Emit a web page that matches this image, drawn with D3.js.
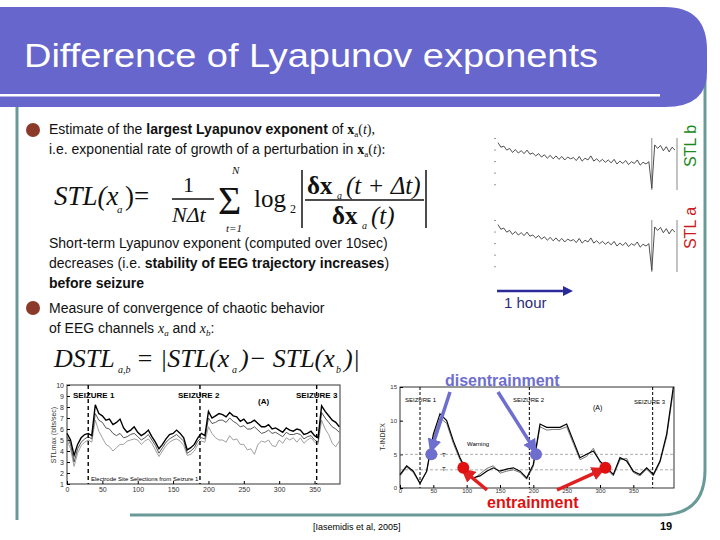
<!DOCTYPE html>
<html><head><meta charset="utf-8">
<script src="https://cdn.jsdelivr.net/npm/d3@7"></script>
<style>body{margin:0;background:#fff}svg{display:block}text{font-family:"Liberation Sans",Arial,sans-serif}</style>
</head><body><svg id="s" width="720" height="540"></svg>
<script>
// ---- data ----
const seizuresLeft = [30, 188, 353];
const leftX = d3.range(0, 390, 5);
const leftS1 = [5.6,5.0,3.6,4.6,5.2,5.5,5.6,5.4,8.2,7.4,7.2,6.8,6.9,6.4,6.6,6.9,6.1,5.7,5.9,6.2,5.7,5.4,5.6,5.9,5.3,4.8,4.2,4.6,5.1,5.5,5.6,5.9,5.6,5.2,4.1,4.3,4.6,5.2,5.6,5.4,7.6,7.0,7.2,7.4,7.3,7.1,7.5,7.2,7.1,6.7,6.9,6.5,6.6,6.8,6.5,6.2,6.2,6.4,6.0,6.1,5.9,5.7,6.1,5.9,5.8,6.0,5.9,5.5,5.6,5.8,5.4,5.2,8.1,7.6,7.2,6.8,6.6,6.2];
const leftS2 = [5.3,4.6,3.0,4.2,4.8,5.1,5.3,5.1,7.4,6.8,6.6,6.1,6.0,5.6,5.4,5.6,5.2,5.3,5.5,5.6,5.3,5.0,5.2,5.5,5.0,4.5,3.8,4.3,4.8,5.1,5.3,5.5,5.2,4.9,3.8,4.0,4.3,4.9,5.2,5.1,7.0,6.5,6.6,6.8,6.8,6.6,7.0,6.7,6.5,6.2,6.3,6.0,6.0,6.2,5.9,5.6,5.7,5.9,5.6,5.7,5.5,5.3,5.7,5.5,5.5,5.6,5.5,5.1,5.3,5.4,5.0,4.8,7.5,7.0,6.6,6.2,6.0,5.7];
const leftS3 = [5.0,4.2,2.6,3.8,4.5,4.8,5.0,4.8,6.8,5.8,5.2,4.6,4.4,4.0,4.3,4.6,4.6,4.9,5.0,5.1,5.0,4.6,4.9,5.1,4.7,4.1,3.5,4.0,4.5,4.8,5.0,5.1,4.9,4.5,3.6,3.7,4.0,4.6,4.9,4.8,6.2,5.6,5.2,5.0,5.0,4.8,5.4,5.0,5.1,4.6,4.6,4.1,4.2,3.7,4.6,4.9,4.8,5.0,4.5,4.4,5.0,4.7,5.2,5.0,5.2,4.8,5.2,4.7,5.0,5.2,4.8,4.6,6.8,6.0,5.5,4.7,4.4,4.9];
const leftYTicks = [1,2,3,4,5,6,7,8,9,10];
const leftXTicks = [0,50,100,150,200,250,300,350];

const seizuresRight = [30, 194, 379];
const tX = d3.range(0, 420, 10);
const tIndex = [2,3.3,2.5,0.7,2.5,8,11,10,7,4.5,2.5,1.5,1.8,2.5,3,2.5,2.8,3,2.5,1.5,3.5,9.5,9,9,9,9.5,7,4.5,5,5.5,4,3,2,4.5,4,2.5,2,3,2,4,8,15];
const tIndex2 = [1.8,3.1,2.3,0.6,2.4,7.6,10.4,9.6,6.6,4.2,2.3,1.3,2.1,2.9,3.3,2.2,2.5,2.7,2.3,1.3,3.2,9.1,8.6,8.7,8.7,9.1,6.6,4.2,4.7,5.9,3.8,2.8,1.8,4.2,4.4,2.3,1.8,2.8,1.8,3.8,7.6,14.5];
const tYTicks = [0,5,10,15];
const tXTicks = [0,50,100,150,200,250,300,350];
const thresholds = [5, 2.7];
const blueDots = [[47,5],[204,5]];
const redDots = [[95,3],[308,3]];

const stlX = d3.range(0, 62);
const stlB = [8.2,7.4,7.6,6.9,7.2,6.5,7.0,6.4,6.8,6.3,6.9,6.2,6.4,5.9,6.3,5.7,6.1,5.5,6.0,5.4,5.9,5.3,5.8,5.2,5.7,5.4,5.6,5.1,5.8,5.0,5.5,5.2,5.9,5.0,5.4,4.9,5.3,4.8,5.2,4.7,5.3,4.5,5.0,4.6,5.1,4.4,4.9,4.6,5.2,4.3,4.8,4.5,4.9,0.3,7.8,7.2,7.7,6.8,7.5,6.6,7.4,6.9];
const stlA = stlB.slice();

// ---- drawing ----
const svg = d3.select("#s");
svg.append("path").attr("d","M17,100 L17,520").attr("stroke","#6a9a98").attr("stroke-width",3).attr("fill","none");
svg.append("path").attr("d","M705,75 L705,470 Q705,515 660,515 L130,515").attr("stroke","#6a9a98").attr("stroke-width",3).attr("fill","none");
svg.append("path").attr("d","M0,7 L665,7 Q707,7 707,50 L707,72 Q707,107 665,107 L0,107 Z").attr("fill","#6666cc");
svg.append("rect").attr("x",0).attr("y",94).attr("width",660).attr("height",2.5).attr("fill","#fff");
svg.append("text").attr("x",24).attr("y",67).attr("fill","#fff").attr("font-size",34).attr("textLength",574).attr("lengthAdjust","spacingAndGlyphs").text("Difference of Lyapunov exponents");

[[33,130],[33,308]].forEach(p=>svg.append("circle").attr("cx",p[0]).attr("cy",p[1]).attr("r",7).attr("fill","#8b3a2a"));
function line(x,y,parts,size){const t=svg.append("text").attr("x",x).attr("y",y).attr("font-size",size||14).attr("fill","#111");
 parts.forEach(p=>{const s=t.append("tspan").text(p.t); if(p.b)s.attr("font-weight","bold"); if(p.i)s.attr("font-style","italic"); if(p.f)s.style("font-family",p.f); if(p.sub)s.attr("dy",3).attr("font-size",9); if(p.up)s.attr("dy",-3);});}
const TM='"Liberation Serif",serif';
line(49,134,[{t:"Estimate of the "},{t:"largest Lyapunov exponent",b:1},{t:" of "},{t:"x",b:1,f:TM},{t:"a",sub:1,f:TM},{t:"(",f:TM,up:1},{t:"t",i:1,f:TM},{t:"),",f:TM}]);
line(49,154,[{t:"i.e. exponential rate of growth of a perturbation in "},{t:"x",b:1,f:TM},{t:"a",sub:1,f:TM},{t:"(",f:TM,up:1},{t:"t",i:1,f:TM},{t:"):",f:TM}]);
line(49,248,[{t:"Short-term Lyapunov exponent (computed over 10sec)"}]);
line(49,268,[{t:"decreases (i.e. "},{t:"stability of EEG trajectory increases",b:1},{t:")"}]);
line(49,288,[{t:"before seizure",b:1}]);
line(49,313,[{t:"Measure of convergence of chaotic behavior"}]);
line(49,333,[{t:"of EEG channels "},{t:"x",i:1,f:TM},{t:"a",sub:1,f:TM,i:1},{t:" and ",up:1},{t:"x",i:1,f:TM},{t:"b",sub:1,f:TM,i:1},{t:":",up:1}]);

const F=svg.append("g").attr("fill","#111");
function ft(x,y,s,sz,it){return F.append("text").attr("x",x).attr("y",y).attr("font-size",sz).attr("font-style",it?"italic":"normal").style("font-family",TM).text(s);}
ft(54,205,"STL(x",27,1); ft(117,213,"a",11,1); ft(125,205,")=",27,0);
ft(183,192,"1",22,0); F.append("line").attr("x1",172).attr("x2",214).attr("y1",199).attr("y2",199).attr("stroke","#111").attr("stroke-width",1.5);
ft(172,222,"NΔt",22,1); ft(218,214,"Σ",40,0); ft(232,174,"N",11,1); ft(226,232,"t=1",11,1);
ft(254,207,"log",25,0); ft(290,213,"2",12,0);
F.append("line").attr("x1",302).attr("x2",302).attr("y1",170).attr("y2",228).attr("stroke","#111").attr("stroke-width",1.5);
F.append("line").attr("x1",426).attr("x2",426).attr("y1",170).attr("y2",228).attr("stroke","#111").attr("stroke-width",1.5);
ft(307,194,"δx",25,0).attr("font-weight","bold"); ft(337,199,"a",10,1); ft(346,194,"(t + Δt)",25,1);
F.append("line").attr("x1",305).attr("x2",424).attr("y1",200).attr("y2",200).attr("stroke","#111").attr("stroke-width",1.5);
ft(332,224,"δx",25,0).attr("font-weight","bold"); ft(362,229,"a",10,1); ft(371,224,"(t)",25,1);
ft(54,367,"DSTL",26,1); ft(118,373,"a,b",10,1); ft(136,367,"= |STL(x",26,1); ft(232,373,"a",10,1); ft(240,367,")− STL(x",26,1); ft(336,373,"b",10,1); ft(344,367,")|",26,1);

// left chart
(function(){
 const x=d3.scaleLinear().domain([0,386]).range([67,340]);
 const y=d3.scaleLinear().domain([1,10]).range([484,385]);
 const g=svg.append("g").attr("font-size",7);
 g.append("rect").attr("x",67).attr("y",385).attr("width",273).attr("height",99).attr("fill","none").attr("stroke","#333");
 g.append("g").attr("transform","translate(0,484)").call(d3.axisBottom(x).tickValues(leftXTicks).tickSize(-3)).call(a=>a.select(".domain").remove());
 g.append("g").attr("transform","translate(67,0)").call(d3.axisLeft(y).tickValues(leftYTicks).tickSize(-3)).call(a=>a.select(".domain").remove());
 g.selectAll(".tick text").attr("font-size",7).attr("fill","#333");
 const ln=d3.line().x((d,i)=>x(leftX[i])).y(d=>y(d));
 [[leftS3,"#888",0.8],[leftS2,"#444",0.9],[leftS1,"#000",1.4]].forEach(s=>g.append("path").attr("d",ln(s[0])).attr("fill","none").attr("stroke",s[1]).attr("stroke-width",s[2]));
 seizuresLeft.forEach(v=>g.append("line").attr("x1",x(v)).attr("x2",x(v)).attr("y1",385).attr("y2",484).attr("stroke","#000").attr("stroke-width",1.4).attr("stroke-dasharray","4,3"));
 g.append("text").attr("x",73).attr("y",398).attr("font-size",8).attr("font-weight","bold").text("SEIZURE 1");
 g.append("text").attr("x",178).attr("y",398).attr("font-size",8).attr("font-weight","bold").text("SEIZURE 2");
 g.append("text").attr("x",296).attr("y",398).attr("font-size",8).attr("font-weight","bold").text("SEIZURE 3");
 g.append("text").attr("x",258).attr("y",404).attr("font-size",8).attr("font-weight","bold").text("(A)");
 g.append("text").attr("x",91).attr("y",481).attr("font-size",6).text("Electrode Site Selections from Seizure 1");
 g.append("text").attr("transform","translate(56,435) rotate(-90)").attr("text-anchor","middle").attr("font-size",7).attr("fill","#333").text("STLmax (bits/sec)");
})();

// T-index chart
(function(){
 const x=d3.scaleLinear().domain([0,411]).range([400,674]);
 const y=d3.scaleLinear().domain([0,15]).range([488,387]);
 const g=svg.append("g");
 g.append("rect").attr("x",400).attr("y",387).attr("width",274).attr("height",101).attr("fill","none").attr("stroke","#333");
 g.append("g").attr("transform","translate(0,488)").call(d3.axisBottom(x).tickValues(tXTicks).tickSize(-3).tickPadding(1)).call(a=>a.select(".domain").remove());
 g.append("g").attr("transform","translate(400,0)").call(d3.axisLeft(y).tickValues(tYTicks).tickSize(-3)).call(a=>a.select(".domain").remove());
 g.selectAll(".tick text").attr("font-size",6).attr("fill","#333");
 thresholds.forEach(v=>g.append("line").attr("x1",400).attr("x2",674).attr("y1",y(v)).attr("y2",y(v)).attr("stroke","#888").attr("stroke-dasharray","3,2").attr("stroke-width",0.7));
 seizuresRight.forEach(v=>g.append("line").attr("x1",x(v)).attr("x2",x(v)).attr("y1",387).attr("y2",488).attr("stroke","#000").attr("stroke-dasharray","3,2"));
 const ln=d3.line().x((d,i)=>x(tX[i])).y(d=>y(d));
 g.append("path").attr("d",ln(tIndex2)).attr("fill","none").attr("stroke","#666").attr("stroke-width",0.9);
 g.append("path").attr("d",ln(tIndex)).attr("fill","none").attr("stroke","#000").attr("stroke-width",1.2);
 g.append("text").attr("x",405).attr("y",402).attr("font-size",6).text("SEIZURE 1");
 g.append("text").attr("x",513).attr("y",402).attr("font-size",6).text("SEIZURE 2");
 g.append("text").attr("x",634).attr("y",404).attr("font-size",6).text("SEIZURE 3");
 g.append("text").attr("x",593).attr("y",410).attr("font-size",7).text("(A)");
 g.append("text").attr("x",467).attr("y",446).attr("font-size",6).text("Warning");
 g.append("text").attr("x",442).attr("y",457).attr("font-size",6).text("T");
 g.append("text").attr("x",442).attr("y",471).attr("font-size",6).text("T");
 g.append("text").attr("transform","translate(385,437) rotate(-90)").attr("text-anchor","middle").attr("font-size",7).attr("fill","#333").text("T-INDEX");
 const defs=svg.append("defs");
 [["b","#6e6ecf"],["r","#e02020"]].forEach(m=>defs.append("marker").attr("id","m"+m[0]).attr("viewBox","0 0 10 10").attr("refX",5).attr("refY",5).attr("markerWidth",4).attr("markerHeight",4).attr("orient","auto").append("path").attr("d","M0,0L10,5L0,10z").attr("fill",m[1]));
 const arrows=[["b",450,392,x(blueDots[0][0])+1,y(blueDots[0][1])-8],["b",498,392,x(blueDots[1][0])-3,y(blueDots[1][1])-7],["r",487,490,x(redDots[0][0])+3,y(redDots[0][1])+5],["r",557,490,x(redDots[1][0])-6,y(redDots[1][1])+3]];
 arrows.forEach(a=>g.append("line").attr("x1",a[1]).attr("y1",a[2]).attr("x2",a[3]).attr("y2",a[4]).attr("stroke",a[0]=="b"?"#6e6ecf":"#e02020").attr("stroke-width",3.5).attr("marker-end","url(#m"+a[0]+")"));
 blueDots.forEach(d=>g.append("circle").attr("cx",x(d[0])).attr("cy",y(d[1])).attr("r",6).attr("fill","#6e6ecf"));
 redDots.forEach(d=>g.append("circle").attr("cx",x(d[0])).attr("cy",y(d[1])).attr("r",6).attr("fill","#e01010"));
 svg.append("text").attr("x",445).attr("y",386).attr("font-size",16).attr("font-weight","bold").attr("fill","#6e6ecf").text("disentrainment");
 svg.append("text").attr("x",487).attr("y",508).attr("font-size",16).attr("font-weight","bold").attr("fill","#e01010").text("entrainment");
})();

function mini(data,top,label,color,ly){
 const x=d3.scaleLinear().domain([0,61]).range([498,675]);
 const y=d3.scaleLinear().domain([0,9]).range([top+52,top]);
 const g=svg.append("g");
 g.append("g").attr("transform","translate(496,0)").call(d3.axisLeft(y).tickValues([1,3,5,7,9]).tickSize(2).tickFormat("")).call(a=>a.select(".domain").remove()).selectAll("line").attr("stroke","#999");
 g.append("path").attr("d",d3.line().x((d,i)=>x(stlX[i])).y(d=>y(d))(data)).attr("fill","none").attr("stroke","#222").attr("stroke-width",0.8);
 g.append("line").attr("x1",x(53)).attr("x2",x(53)).attr("y1",top).attr("y2",top+52).attr("stroke","#555").attr("stroke-width",0.7);
 g.append("line").attr("x1",677).attr("x2",677).attr("y1",top).attr("y2",top+52).attr("stroke","#888");
 svg.append("text").attr("transform",`translate(696,${ly}) rotate(-90)`).attr("text-anchor","middle").attr("font-size",16).attr("fill",color).text(label);
}
mini(stlB,138,"STL b","#1a8a1a",146);
mini(stlA,220,"STL a","#cc1a1a",228);
svg.select("defs").append("marker").attr("id","mh").attr("viewBox","0 0 10 10").attr("refX",2).attr("refY",5).attr("markerWidth",4).attr("markerHeight",4).attr("orient","auto").append("path").attr("d","M0,0L10,5L0,10z").attr("fill","#2a2a9a");
svg.append("line").attr("x1",497).attr("x2",565).attr("y1",291).attr("y2",291).attr("stroke","#2a2a9a").attr("stroke-width",2.5).attr("marker-end","url(#mh)");
svg.append("text").attr("x",504).attr("y",308).attr("font-size",15).attr("fill","#2a2a7a").text("1 hour");

svg.append("text").attr("x",313).attr("y",530).attr("font-size",9).text("[Iasemidis et al, 2005]");
svg.append("text").attr("x",660).attr("y",530).attr("font-size",11).attr("font-weight","bold").text("19");
</script></body></html>
